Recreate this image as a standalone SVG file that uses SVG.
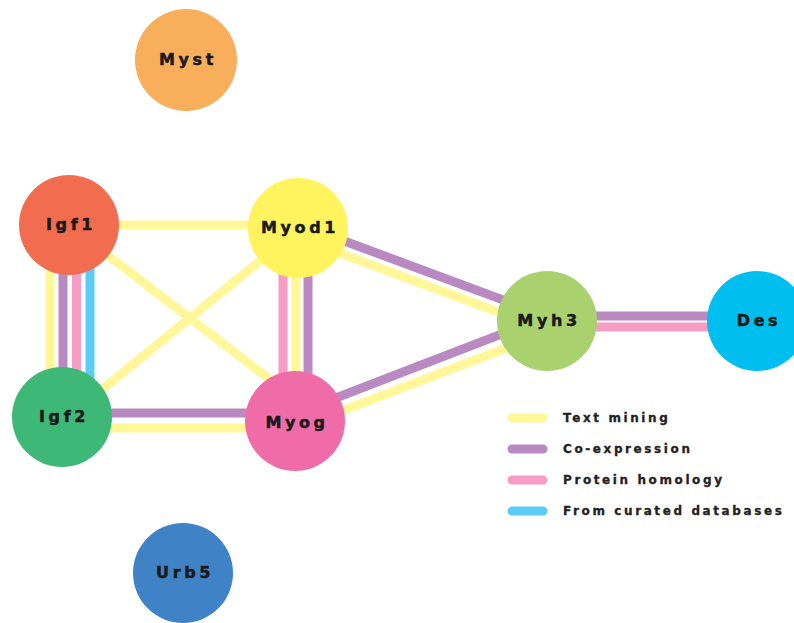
<svg xmlns="http://www.w3.org/2000/svg" width="794" height="623" viewBox="0 0 794 623">
<style>
.e{stroke-width:9;fill:none}
.y{stroke:#FFF799}
.p{stroke:#B98AC2}
.k{stroke:#F69CC5}
.b{stroke:#5CCBF5}
.lg{stroke-width:9;stroke-linecap:round}
.lbl{font-family:"DejaVu Sans","Liberation Sans",sans-serif;font-weight:bold;font-size:16px;letter-spacing:3.6px;fill:#1a1a1a;stroke:#1a1a1a;stroke-width:0.5;text-anchor:middle}
.lt{font-family:"DejaVu Sans","Liberation Sans",sans-serif;font-weight:bold;font-size:12px;letter-spacing:2.6px;fill:#222;stroke:#222;stroke-width:0.3}
</style>
<rect width="794" height="623" fill="#ffffff"/>
<g id="connectors">
  <line class="e y" x1="69" y1="225" x2="298" y2="225"/>
  <line class="e y" x1="50" y1="240" x2="50" y2="400"/>
  <line class="e p" x1="63" y1="240" x2="63" y2="400"/>
  <line class="e k" x1="76.5" y1="240" x2="76.5" y2="400"/>
  <line class="e b" x1="90" y1="240" x2="90" y2="400"/>
  <line class="e y" x1="80" y1="234" x2="290" y2="395"/>
  <line class="e y" x1="88" y1="401" x2="282" y2="243"/>
  <line class="e k" x1="283" y1="240" x2="283" y2="400"/>
  <line class="e y" x1="296" y1="240" x2="296" y2="400"/>
  <line class="e p" x1="308" y1="240" x2="308" y2="400"/>
  <line class="e p" x1="62" y1="413" x2="295" y2="413"/>
  <line class="e y" x1="62" y1="428" x2="295" y2="428"/>
  <line class="e p" x1="320" y1="232" x2="530" y2="310"/>
  <line class="e y" x1="315" y1="244" x2="530" y2="324"/>
  <line class="e p" x1="315" y1="406" x2="530" y2="323"/>
  <line class="e y" x1="318" y1="420" x2="530" y2="339"/>
  <line class="e p" x1="547" y1="316" x2="757" y2="316"/>
  <line class="e k" x1="547" y1="327" x2="757" y2="327"/>
</g>
<g id="Myst"><circle cx="186" cy="60" r="51" fill="#F9AE5B"/><text class="lbl" x="188" y="65">Myst</text></g>
<g id="Igf1"><circle cx="69" cy="225" r="50" fill="#F26C4F"/><text class="lbl" x="71" y="230">Igf1</text></g>
<g id="Myod1"><circle cx="298" cy="228" r="50" fill="#FFF35E"/><text class="lbl" x="300" y="233">Myod1</text></g>
<g id="Igf2"><circle cx="62" cy="417" r="50" fill="#3DB877"/><text class="lbl" x="64" y="422">Igf2</text></g>
<g id="Myog"><circle cx="295" cy="421" r="50" fill="#F06CA8"/><text class="lbl" x="297" y="428">Myog</text></g>
<g id="Myh3"><circle cx="547" cy="321" r="50" fill="#A9D26F"/><text class="lbl" x="549" y="326">Myh3</text></g>
<g id="Des"><circle cx="757" cy="321" r="50" fill="#00BFF0"/><text class="lbl" x="759" y="326">Des</text></g>
<g id="Urb5"><circle cx="183" cy="573" r="50" fill="#3F82C5"/><text class="lbl" x="185" y="578">Urb5</text></g>
<g id="legend">
  <line class="lg y" x1="512" y1="418" x2="543" y2="418"/>
  <line class="lg p" x1="512" y1="449" x2="543" y2="449"/>
  <line class="lg k" x1="512" y1="480" x2="543" y2="480"/>
  <line class="lg b" x1="512" y1="511" x2="543" y2="511"/>
  <text class="lt" x="563" y="422">Text mining</text>
  <text class="lt" x="563" y="453">Co-expression</text>
  <text class="lt" x="563" y="484">Protein homology</text>
  <text class="lt" x="563" y="515">From curated databases</text>
</g>
</svg>
